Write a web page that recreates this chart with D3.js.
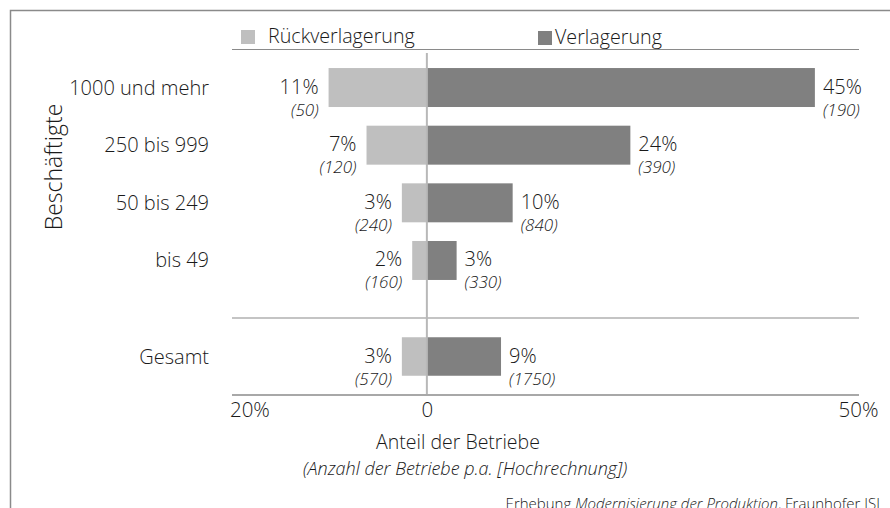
<!DOCTYPE html>
<html>
<head>
<meta charset="utf-8">
<script src="https://cdn.jsdelivr.net/npm/d3@7"></script>
<style>
	body { margin: 0; background: #fff; }
	svg { display: block; font-family: "Open Sans", sans-serif; font-weight: 300; }
	text { fill: #1a1a1a; }
</style>
</head>
<body>
<svg id="chart" width="890" height="508"></svg>
<script>
// data (percent of firms, number of firms p.a.)
var categories = ["1000 und mehr", "250 bis 999", "50 bis 249", "bis 49"];
var rueckShare = [11.4, 7.0, 2.9, 1.7];
var rueckCount = [50, 120, 240, 160];
var verlShare = [45.0, 23.6, 9.95, 3.45];
var verlCount = [190, 390, 840, 330];

var totalLabel = "Gesamt";
var totalRueckShare = 2.9;
var totalRueckCount = 570;
var totalVerlShare = 8.6;
var totalVerlCount = 1750;

var seriesNames = ["Rückverlagerung", "Verlagerung"];
var seriesColors = ["#bfbfbf", "#808080"];
var tickValues = [-20, 0, 50];

var rows = categories.map(function(c, i) {
	return {name: c, left: rueckShare[i], leftN: rueckCount[i], right: verlShare[i], rightN: verlCount[i]};
});
var totalRow = {name: totalLabel, left: totalRueckShare, leftN: totalRueckCount, right: totalVerlShare, rightN: totalVerlCount};

var svg = d3.select("#chart");

// frame
svg.append("path")
	.attr("d", "M10.5,512V10.5H895")
	.attr("fill", "none")
	.attr("stroke", "#8a8a8a")
	.attr("stroke-width", 1.5);

var x = d3.scaleLinear()
	.domain([-22.6, 50])
	.range([232, 858]);

var y = d3.scaleBand()
	.domain(categories)
	.range([58.7, 289.3])
	.paddingInner(0.324)
	.paddingOuter(0.162);

var yTotal = d3.scaleBand()
	.domain([totalLabel])
	.range([318, 395])
	.paddingInner(0.5)
	.paddingOuter(0.25);

// legend
var legendX = [241, 538];
var legend = svg.append("g").selectAll("g")
	.data(seriesNames)
	.enter()
	.append("g")
	.attr("transform", function(d, i) { return "translate(" + legendX[i] + "," + (i == 0 ? 30 : 31) + ")"; });
legend.append("rect")
	.attr("width", 14)
	.attr("height", 14)
	.style("fill", function(d, i) { return seriesColors[i]; });
legend.append("text")
	.attr("x", function(d, i) { return i == 0 ? 27 : 17; })
	.attr("y", 13)
	.style("font-size", "19.7px")
	.text(function(d) { return d; });

svg.append("line")
	.attr("x1", x.range()[0]).attr("x2", x.range()[1] + 1)
	.attr("y1", 49.5).attr("y2", 49.5)
	.attr("stroke", "#8a8a8a")
	.attr("stroke-width", 1.2);

// separator above total
svg.append("line")
	.attr("x1", x.range()[0]).attr("x2", x.range()[1] + 1)
	.attr("y1", 318).attr("y2", 318)
	.attr("stroke", "#8a8a8a")
	.attr("stroke-width", 1.2);

function drawRow(g, d, top, bh) {
	g.append("rect")
		.attr("x", x(-d.left))
		.attr("y", top)
		.attr("width", x(0) - x(-d.left))
		.attr("height", bh)
		.style("fill", seriesColors[0]);
	g.append("rect")
		.attr("x", x(0))
		.attr("y", top)
		.attr("width", x(d.right) - x(0))
		.attr("height", bh)
		.style("fill", seriesColors[1]);

	// category label
	g.append("text")
		.attr("x", 209)
		.attr("y", top + bh / 2 + 7)
		.style("text-anchor", "end")
		.style("font-size", "20px")
		.text(d.name);

	// left values
	g.append("text")
		.attr("x", x(-d.left) - 10)
		.attr("y", top + 25.5)
		.style("text-anchor", "end")
		.style("font-size", "20px")
		.text(Math.round(d.left) + "%");
	g.append("text")
		.attr("x", x(-d.left) - 10)
		.attr("y", top + 47.5)
		.style("text-anchor", "end")
		.style("font-size", "17px")
		.style("font-style", "italic")
		.text("(" + d.leftN + ")");

	// right values
	g.append("text")
		.attr("x", x(d.right) + 8)
		.attr("y", top + 25.5)
		.style("font-size", "20px")
		.text(Math.round(d.right) + "%");
	g.append("text")
		.attr("x", x(d.right) + 8)
		.attr("y", top + 47.5)
		.style("font-size", "17px")
		.style("font-style", "italic")
		.text("(" + d.rightN + ")");
}

var bars = svg.append("g");
rows.forEach(function(d) {
	drawRow(bars, d, y(d.name), y.bandwidth());
});
drawRow(bars, totalRow, yTotal(totalLabel), yTotal.bandwidth());

// zero line
svg.append("line")
	.attr("x1", x(0)).attr("x2", x(0))
	.attr("y1", 53).attr("y2", 395)
	.attr("stroke", "#b8b8b8")
	.attr("stroke-width", 2);

// x axis
var xaxis = d3.axisBottom(x)
	.tickValues(tickValues)
	.tickSize(0)
	.tickPadding(7)
	.tickFormat(function(d) { return d == 0 ? "0" : Math.abs(d) + "%"; });

var axisG = svg.append("g")
	.attr("transform", "translate(0,395)")
	.call(xaxis);
axisG.select(".domain")
	.attr("d", "M" + x.range()[0] + ",0H" + (x.range()[1] + 1))
	.attr("stroke", "#a8a8a8")
	.attr("stroke-width", 2);
axisG.selectAll("text")
	.style("font-family", "Open Sans")
	.style("font-weight", 300)
	.style("font-size", "20.5px")
	.attr("fill", "#1a1a1a")
	.attr("dx", function(d) { return d < 0 ? -5 : 0; });

// axis titles
svg.append("text")
	.attr("x", 458)
	.attr("y", 449)
	.style("text-anchor", "middle")
	.style("font-size", "19.5px")
	.text("Anteil der Betriebe");
svg.append("text")
	.attr("x", 465)
	.attr("y", 475)
	.style("text-anchor", "middle")
	.style("font-size", "18px")
	.style("font-style", "italic")
	.text("(Anzahl der Betriebe p.a. [Hochrechnung])");

// y title
svg.append("text")
	.attr("transform", "translate(62,167)rotate(-90)")
	.style("text-anchor", "middle")
	.style("font-size", "23px")
	.text("Beschäftigte");

// source
var src = svg.append("text")
	.attr("x", 880)
	.attr("y", 509)
	.style("text-anchor", "end")
	.style("font-size", "15px");
src.append("tspan").text("Erhebung ");
src.append("tspan").style("font-style", "italic").text("Modernisierung der Produktion");
src.append("tspan").text(", Fraunhofer ISI");
</script>
</body>
</html>
